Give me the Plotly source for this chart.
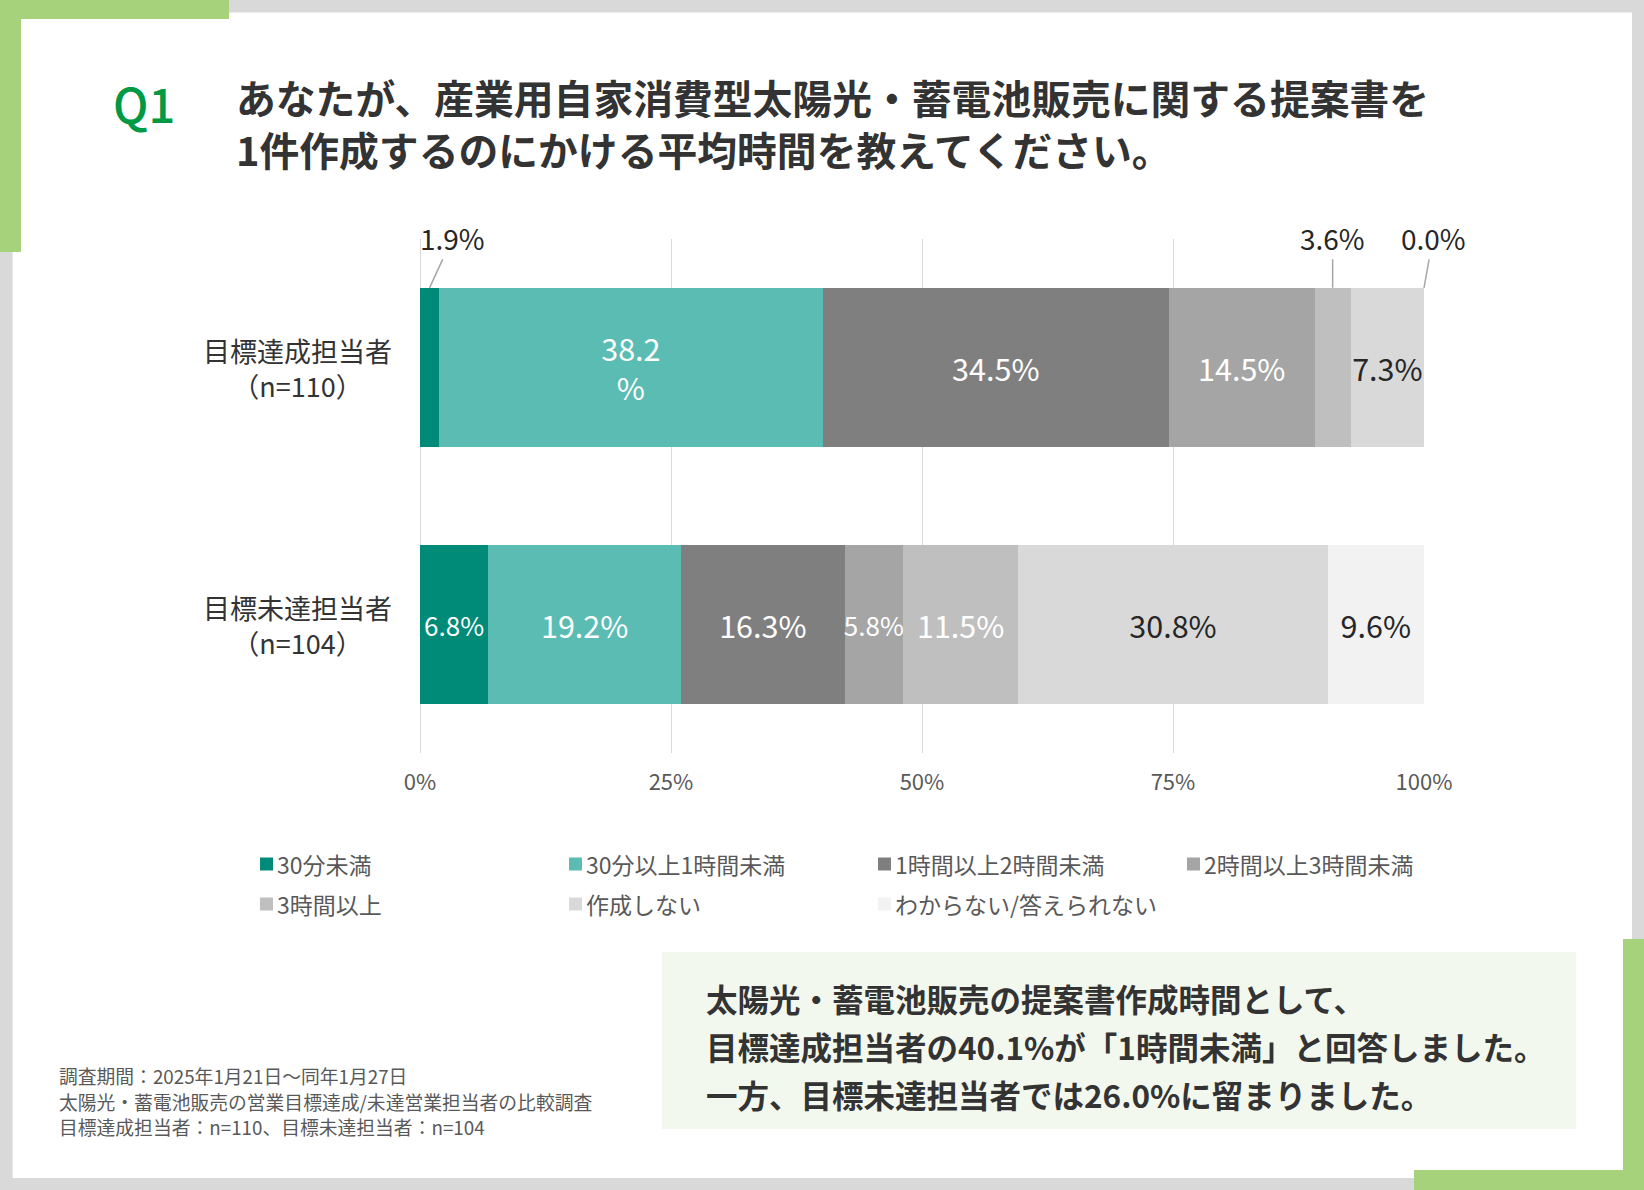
import plotly.graph_objects as go

# data
categories = ["目標達成担当者", "目標未達担当者"]
sample_sizes = [110, 104]
answers = ["30分未満", "30分以上1時間未満", "1時間以上2時間未満", "2時間以上3時間未満",
           "3時間以上", "作成しない", "わからない/答えられない"]
achieved = [1.9, 38.2, 34.5, 14.5, 3.6, 7.3, 0.0]
not_achieved = [6.8, 19.2, 16.3, 5.8, 11.5, 30.8, 9.6]
x_ticks = [0, 25, 50, 75, 100]

colors = ["#008a78", "#5bbcb3", "#7f7f7f", "#a5a5a5", "#bfbfbf", "#d9d9d9", "#f2f2f2"]
label_colors = ["white"] * 5 + ["#262626"] * 2
FONT = "Noto Sans CJK JP"
GREEN = "#a6d27b"

W, H = 1644, 1190
L, R, T, B = 420, 220, 239, 437
PW, PH = W - L - R, H - T - B


def px(x):
    return (x - L) / PW


def py(y):
    return (T + PH - y) / PH


def fmt(v):
    return f"{v:.1f}%"


rows = [achieved, not_achieved]
fig = go.Figure()
for i, name in enumerate(answers):
    vals = [r[i] for r in rows]
    texts, sizes = [], []
    for v in vals:
        if v < 5:
            texts.append("")  # shown as call-outs above the bar
        elif v > 35:
            texts.append(f"{v:.1f}<br>%")
        else:
            texts.append(fmt(v))
        sizes.append(26 if v < 7 else 30.5)
    fig.add_trace(go.Bar(
        name=name, y=categories, x=vals, orientation="h",
        marker=dict(color=colors[i], line=dict(width=0)),
        width=0.62, text=texts, textposition="inside", insidetextanchor="middle",
        textangle=0, constraintext="none",
        insidetextfont=dict(family=FONT, size=sizes, color=label_colors[i]),
        hoverinfo="skip", showlegend=False,
    ))

# call-outs for the narrow segments of the first bar
callout_dx = {0: 23, 4: 0, 6: 9}
for i, dx in callout_dx.items():
    centre = sum(achieved[:i]) + achieved[i] / 2
    fig.add_annotation(x=centre, y=-0.31, xref="x", yref="y", text=fmt(achieved[i]),
                       showarrow=True, arrowhead=0, arrowwidth=1.5, arrowcolor="#a6a6a6",
                       ax=dx, ay=-50, standoff=0,
                       font=dict(family=FONT, size=28, color="#262626"))

# category labels
for j, (c, n) in enumerate(zip(categories, sample_sizes)):
    fig.add_annotation(x=px(297), y=j, xref="paper", yref="y", showarrow=False,
                       text=f"{c}<br>（n={n}）", align="center", xanchor="center",
                       font=dict(family=FONT, size=27, color="#333333"))

# legend drawn by hand: 4 columns, 2 rows
for i, name in enumerate(answers):
    col, row = i % 4, i // 4
    x0 = 260 + col * 309
    yc = 864 + row * 40
    fig.add_shape(type="rect", xref="paper", yref="paper",
                  x0=px(x0), x1=px(x0 + 13), y0=py(yc + 6.5), y1=py(yc - 6.5),
                  fillcolor=colors[i], line=dict(width=0))
    fig.add_annotation(x=px(x0 + 15), y=py(yc), xref="paper", yref="paper", showarrow=False,
                       text=name, xanchor="left", yanchor="middle",
                       font=dict(family=FONT, size=23, color="#595959"))

# frame: grey border, white card, green corners, summary box
shapes = [
    dict(x0=12.6, x1=1632, y0=12.6, y1=1178, color="white"),
    dict(x0=0, x1=229, y0=0, y1=19, color=GREEN),
    dict(x0=0, x1=21, y0=0, y1=252, color=GREEN),
    dict(x0=1623, x1=1644, y0=939, y1=1190, color=GREEN),
    dict(x0=1414, x1=1644, y0=1170, y1=1190, color=GREEN),
    dict(x0=662, x1=1576, y0=952, y1=1129, color="#f3f8ee"),
]
for s in shapes:
    fig.add_shape(type="rect", xref="paper", yref="paper", layer="below",
                  x0=px(s["x0"]), x1=px(s["x1"]), y0=py(s["y1"]), y1=py(s["y0"]),
                  fillcolor=s["color"], line=dict(width=0))

# title
fig.add_annotation(x=px(111), y=py(102), xref="paper", yref="paper", showarrow=False,
                   text="Q1", xanchor="left", yanchor="middle",
                   font=dict(family=FONT, size=47, color="#009944", weight=500))
fig.add_annotation(x=px(234), y=py(123), xref="paper", yref="paper", showarrow=False,
                   text="あなたが、産業用自家消費型太陽光・蓄電池販売に関する提案書を<br>"
                        "1件作成するのにかける平均時間を教えてください。",
                   xanchor="left", yanchor="middle", align="left",
                   font=dict(family=FONT, size=39.8, color="#333333", weight="bold"))

# footnote
notes = ["調査期間：2025年1月21日～同年1月27日",
         "太陽光・蓄電池販売の営業目標達成/未達営業担当者の比較調査",
         "目標達成担当者：n=110、目標未達担当者：n=104"]
for k, line in enumerate(notes):
    fig.add_annotation(x=px(57), y=py(1075.5 + k * 25.5), xref="paper", yref="paper",
                       showarrow=False, text=line, xanchor="left", yanchor="middle",
                       font=dict(family=FONT, size=18.8, color="#595959"))

# summary
summary = ["太陽光・蓄電池販売の提案書作成時間として、",
           "目標達成担当者の40.1%が「1時間未満」と回答しました。",
           "一方、目標未達担当者では26.0%に留まりました。"]
for k, line in enumerate(summary):
    fig.add_annotation(x=px(704), y=py(998 + k * 48), xref="paper", yref="paper",
                       showarrow=False, text=line, xanchor="left", yanchor="middle",
                       font=dict(family=FONT, size=31.5, color="#333333", weight="bold"))

fig.update_layout(
    width=W, height=H, margin=dict(l=L, r=R, t=T, b=B, autoexpand=False),
    barmode="stack", paper_bgcolor="#d9d9d9", plot_bgcolor="rgba(0,0,0,0)",
    font=dict(family=FONT),
    xaxis=dict(range=[0, 100], tickvals=x_ticks, ticktext=[f"{t}%" for t in x_ticks],
               showgrid=True, gridcolor="#d9d9d9", gridwidth=1,
               zeroline=True, zerolinecolor="#d9d9d9", zerolinewidth=1,
               showline=False, ticks="", ticklabelstandoff=14,
               tickfont=dict(family=FONT, size=22, color="#595959")),
    yaxis=dict(type="category", range=[1.5, -0.5], showticklabels=False,
               showgrid=False, zeroline=False, showline=False),
)

fig.write_html("out.html", config={"displayModeBar": False},
               post_script="document.body.style.margin='0';")
